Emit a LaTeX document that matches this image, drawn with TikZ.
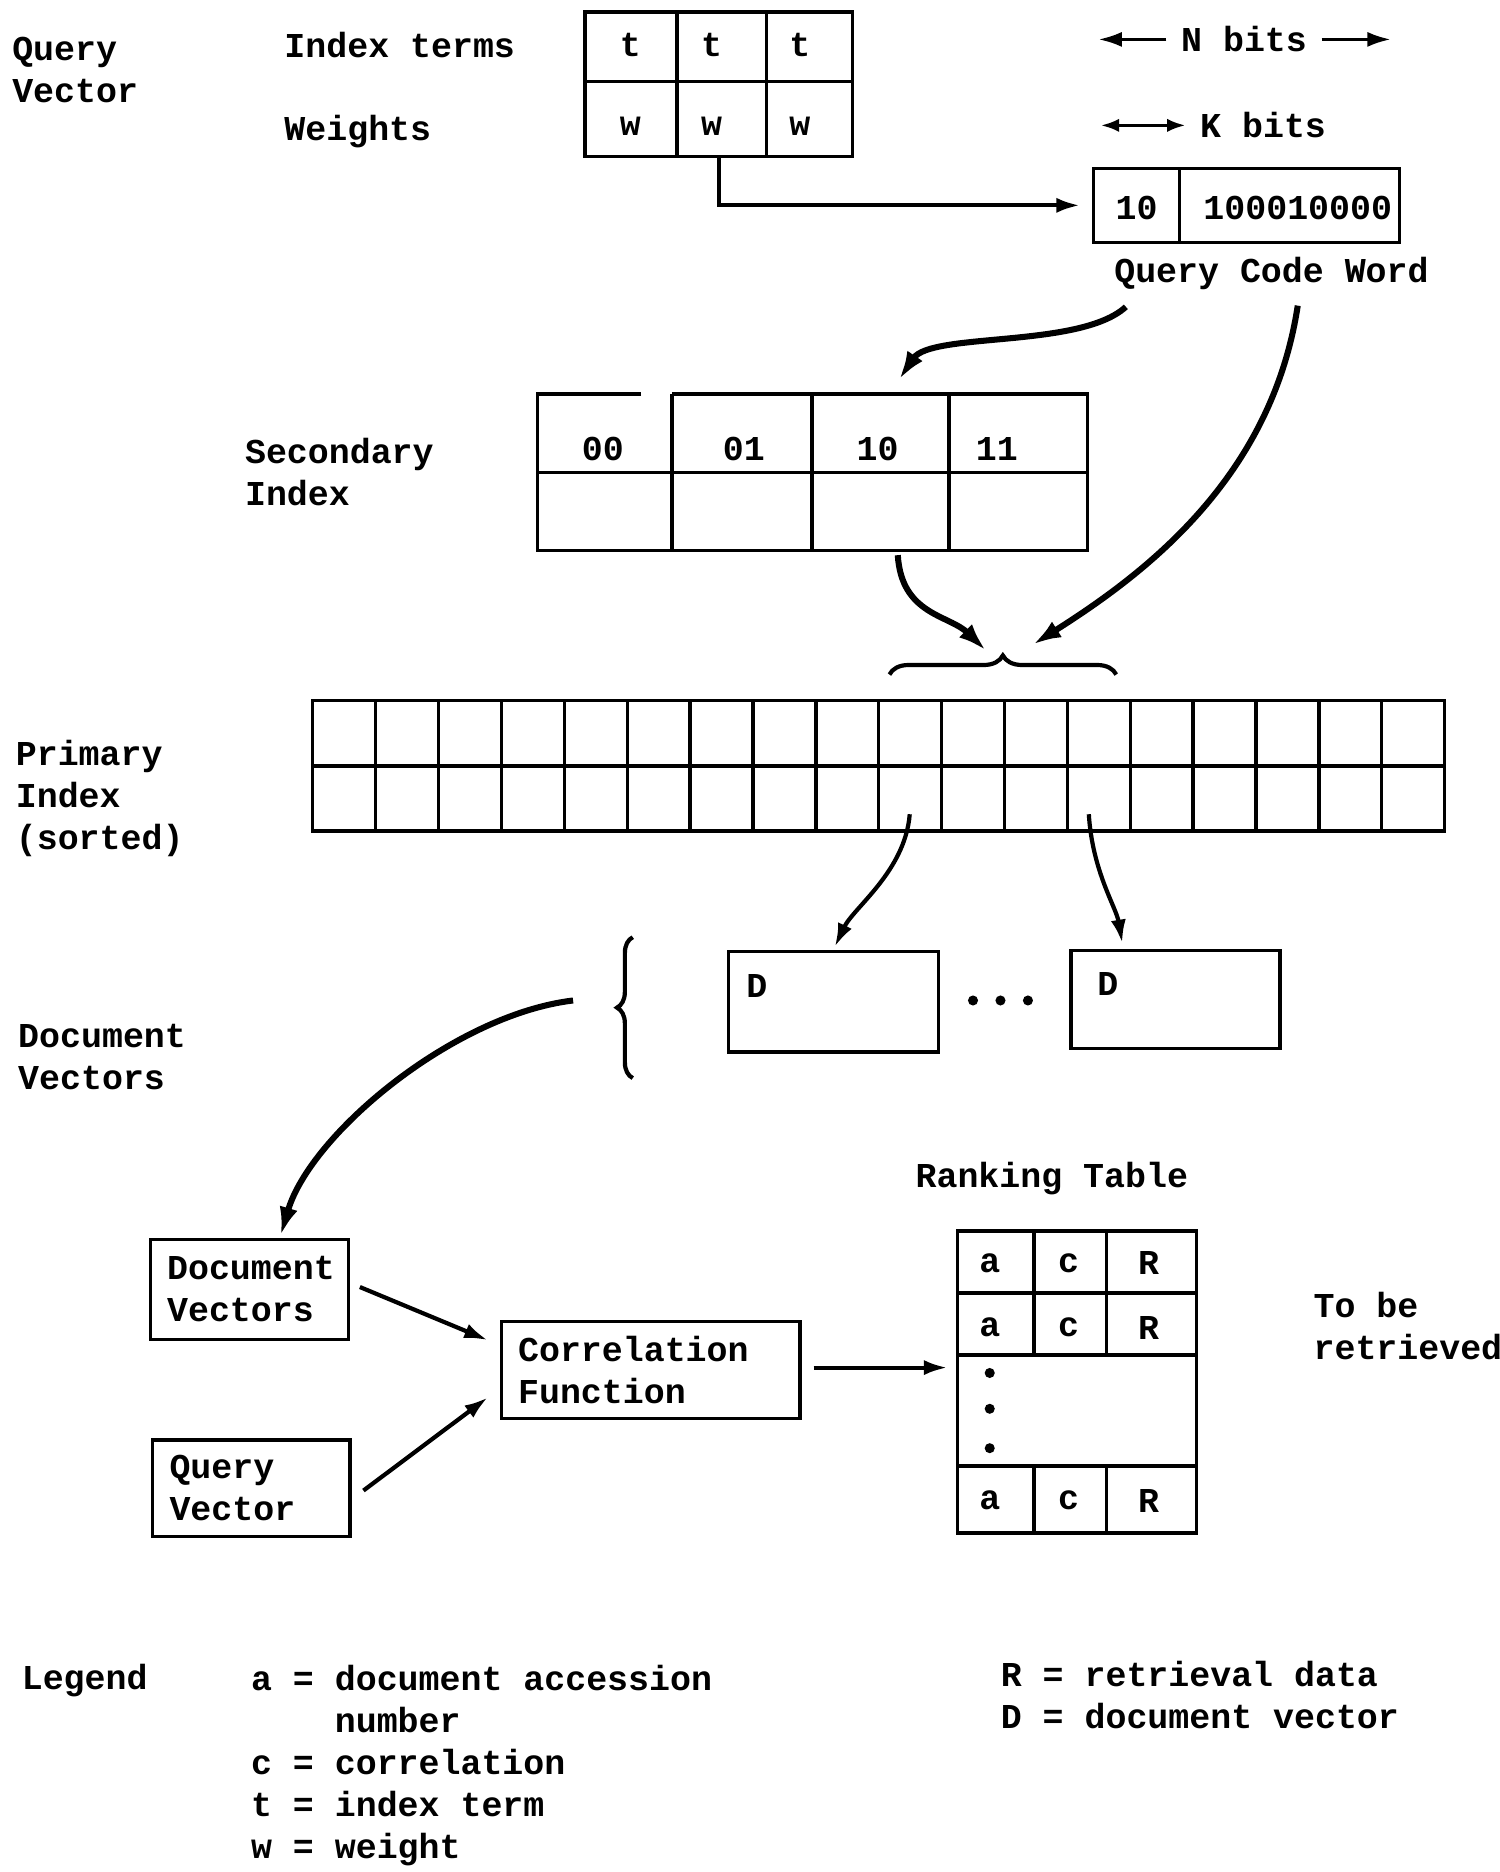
\documentclass[tikz,border=0pt]{standalone}
\usepackage{fontspec}
\setmainfont{Liberation Mono}
\usetikzlibrary{arrows.meta}
\usetikzlibrary{calc}
\usetikzlibrary{decorations.pathreplacing}

\tikzset{
	every node/.style={font=\fontsize{20.8}{25}\selectfont\bfseries, inner sep=0pt},
	box/.style={draw, line width=2pt, inner xsep=0.35cm, align=left},
	tabline/.style={line width=2pt},
	arr/.style={line width=2.5pt, -{Latex[length=14pt,width=9pt]}},
	darr/.style={line width=2pt, {Latex[length=11pt,width=8pt]}-{Latex[length=11pt,width=8pt]}},
	sweep/.style={line width=3.6pt, -{Latex[length=17pt,width=11pt]}},
	curly/.style={line width=2.5pt, decorate, decoration={brace, amplitude=0.4cm}},
}

\begin{document}
\begin{tikzpicture}[x=0.025cm, y=-0.025cm]
	\useasboundingbox (0,0) rectangle (1256,1568);

	% query vector
	\node[anchor=west, align=left] (qlabel) at (10,59) {Query\\Vector};
	\node[anchor=west] (terms) at (238,38) {Index terms};
	\node[anchor=west] (weights) at (238,110) {Weights};
	\node[draw, line width=2pt, minimum width=5.6cm, minimum height=3.025cm] (qv) at (602,70.5) {};
	\draw[tabline] (490,68) -- (714,68);
	\foreach \x in {567,642}
		\draw[tabline] (\x,10) -- (\x,131);
	\foreach \x/\n in {528/1,596/2,670/3} {
		\node (t\n) at (\x,38) {t};
		\node (w\n) at (\x,106) {w};
	}

	% bit widths
	\node (nbits) at (1042,33) {N bits};
	\coordinate (nl) at (920,33);
	\coordinate (nr) at (1165,33);
	\draw[arr, line width=2pt, shorten <=0.3cm] (nbits.west) -- (nl);
	\draw[arr, line width=2pt, shorten <=0.3cm] (nbits.east) -- (nr);
	\node[anchor=west] (kbits) at (1005,105) {K bits};
	\coordinate (kl) at (922,105);
	\draw[darr, shorten >=0.3cm] (kl) -- (kbits.west);

	% code word
	\node[draw, line width=2pt, minimum width=6.4cm, minimum height=1.55cm] (cw) at (1044,172) {};
	\draw[tabline] (988,141) -- (988,203);
	\node (cwkey) at (952,174) {10};
	\node (cwbits) at (1087,174) {100010000};
	\node (cwlabel) at (1065,229) {Query Code Word};
	\draw[arr, shorten >=0.25cm] (qv.south) |- (cw.west);

	% secondary index
	\node[anchor=west, align=left] (slabel) at (205,395.5) {Secondary\\Index};
	\draw[tabline] (537,330) -- (450,330) -- (450,461) -- (911,461) -- (911,330) -- (563,330);
	\draw[tabline] (450,396) -- (911,396);
	\foreach \x in {563,680,795}
		\draw[tabline] (\x,330) -- (\x,461);
	\foreach \x/\k in {505/00,623/01,735/10,835/11}
		\node (s\k) at (\x,376) {\k};

	\coordinate (qa) at (943,257);
	\coordinate (qb) at (1087,256);
	\coordinate (sa) at (753,318);
	\coordinate (sb) at (752,465);
	\coordinate (pa) at (826,545);
	\coordinate (pb) at (865,540);
	\draw[sweep] (qa) .. controls (905,292) and (780,278) .. (sa);
	\draw[sweep] (qb) .. controls (1065,400) and (960,480) .. (pb);
	\draw[sweep] (sb) .. controls (755,515) and (795,515) .. (pa);
	\draw[curly] (745,565) -- (935,565);

	% primary index
	\node[anchor=west, align=left] (plabel) at (13,669) {Primary\\Index\\(sorted)};
	\node[draw, line width=2pt, minimum width=23.7cm, minimum height=2.725cm] (pi) at (736,641.5) {};
	\draw[tabline] (pi.west) -- (pi.east);
	\foreach \i [evaluate=\i as \x using 262+948*\i/18] in {1,...,17}
		\draw[tabline] (\x,587) -- (\x,696);

	% document vectors
	\node[anchor=west, align=left] (dlabel) at (15,885.5) {Document\\Vectors};
	\node[draw, line width=2pt, minimum width=4.4cm, minimum height=2.1cm] (d1) at (698,839) {};
	\node[draw, line width=2pt, minimum width=4.375cm, minimum height=2.05cm] (d2) at (984.5,837) {};
	\node (d1name) at (634,826) {D};
	\node (d2name) at (928,824) {D};
	\foreach \x in {815,838,861}
		\fill (\x,838) circle[radius=3pt];
	\draw[curly, decoration={brace, amplitude=0.33cm}] (530,903) -- (530,785);

	\coordinate (p1) at (762,682);
	\coordinate (p2) at (912,682);
	\coordinate (d2in) at (940,790);
	\draw[arr, shorten >=2pt] (p1) .. controls (758,730) and (715,760) .. (d1.north);
	\draw[arr] (p2) .. controls (915,730) and (935,760) .. (d2in);

	\coordinate (dvout) at (480,838);
	\coordinate (dvin) at (235,1035);
	\draw[sweep] (dvout) .. controls (380,850) and (260,950) .. (dvin);

	% correlation
	\node[box, text width=3.45cm, minimum height=2.1cm] (dv) at (209,1080) {Document\\Vectors};
	\node[box, text width=3.425cm, minimum height=2.025cm] (qvbox) at (210.5,1246.5) {Query\\Vector};
	\node[box, text width=5.55cm, minimum height=2.025cm] (cf) at (545,1147.5) {Correlation\\Function};

	% ranking table
	\node (rtlabel) at (881,987) {Ranking Table};
	\node[draw, line width=2pt, minimum width=5cm, minimum height=6.325cm] (rt) at (902,1157.5) {};
	\foreach \y in {1083,1135,1228}
		\draw[tabline] (802,\y) -- (1002,\y);
	\foreach \x in {866,927} {
		\draw[tabline] (\x,1031) -- (\x,1135);
		\draw[tabline] (\x,1228) -- (\x,1284);
	}
	\foreach \y/\n in {1058/1,1112/2,1257/3} {
		\node (a\n) at (829,\y) {a};
		\node (c\n) at (895,\y) {c};
		\node (r\n) at (962,\y) {R};
	}
	\foreach \y in {1150,1180,1213}
		\fill (829,\y) circle[radius=3pt];
	\node[anchor=west, align=left] (retr) at (1100,1111) {To be\\retrieved};

	\draw[arr] ($(dv.east)+(8,-2)$) -- ($(cf.west)+(-10,-25)$);
	\draw[arr] ($(qvbox.east)+(10,2)$) -- ($(cf.west)+(-10,23)$);
	\draw[arr] ($(cf.east)+(10,-2)$) -- ($(rt.west)+(-7,-12)$);

	% legend
	\node[anchor=west] (legend) at (18,1408) {Legend};
	\node[anchor=west, align=left] (keys) at (210,1478.5) {a = document accession\\\phantom{a = }number\\c = correlation\\t = index term\\w = weight};
	\node[anchor=west, align=left] (keys2) at (838,1420) {R = retrieval data\\D = document vector};
\end{tikzpicture}
\end{document}
